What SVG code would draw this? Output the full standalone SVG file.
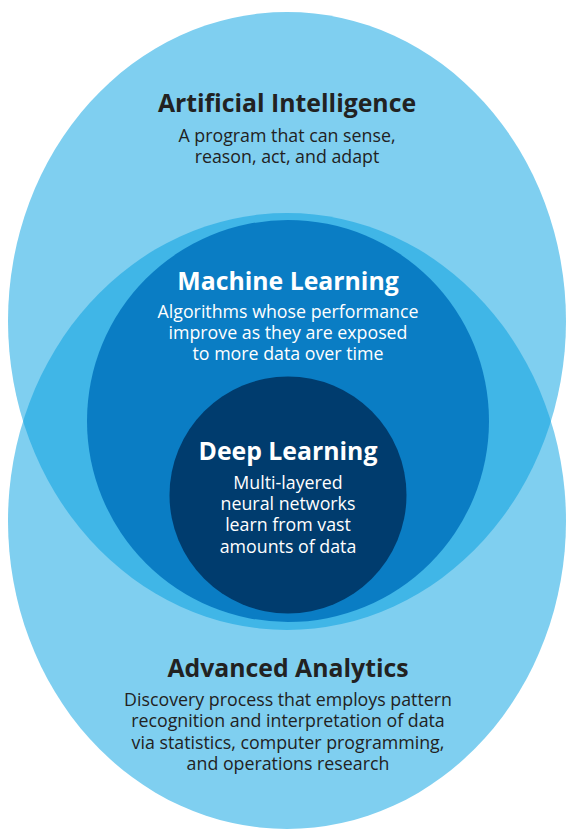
<svg xmlns="http://www.w3.org/2000/svg" width="567" height="829" viewBox="0 0 567 829">
  <style>
    .title { font-family: "Open Sans", "Noto Sans", sans-serif; font-weight: bold; font-size: 24.8px; text-anchor: middle; }
    .body { font-family: "Open Sans", "Noto Sans", sans-serif; font-size: 17.8px; text-anchor: middle; }
    .dark { fill: #222222; }
    .light { fill: #ffffff; }
  </style>
  <defs>
    <clipPath id="aiClip">
      <ellipse cx="287" cy="321" rx="279" ry="309"/>
    </clipPath>
  </defs>
  <rect width="567" height="829" fill="#ffffff"/>
  <g id="ai">
    <ellipse cx="287" cy="321" rx="279" ry="309" fill="#7fcff0"/>
  </g>
  <g id="aa">
    <ellipse cx="287" cy="521" rx="279" ry="308" fill="#7fcff0"/>
  </g>
  <g id="overlap">
    <ellipse cx="287" cy="521" rx="279" ry="308" fill="#40b6e7" clip-path="url(#aiClip)"/>
  </g>
  <g id="ml">
    <circle cx="288" cy="421" r="201" fill="#0a7dc4"/>
  </g>
  <g id="dl">
    <circle cx="288" cy="495" r="118.5" fill="#003c6e"/>
  </g>
  <g id="connectors"/>
  <g id="ai-text">
    <text class="title dark" x="287" y="112">Artificial Intelligence</text>
    <text class="body dark" x="287" y="142">A program that can sense,</text>
    <text class="body dark" x="287" y="163">reason, act, and adapt</text>
  </g>
  <g id="ml-text">
    <text class="title light" x="288" y="290">Machine Learning</text>
    <text class="body light" x="288" y="318">Algorithms whose performance</text>
    <text class="body light" x="288" y="339">improve as they are exposed</text>
    <text class="body light" x="288" y="360">to more data over time</text>
  </g>
  <g id="dl-text">
    <text class="title light" x="288" y="460">Deep Learning</text>
    <text class="body light" x="288" y="489">Multi-layered</text>
    <text class="body light" x="288" y="510">neural networks</text>
    <text class="body light" x="288" y="531">learn from vast</text>
    <text class="body light" x="288" y="553">amounts of data</text>
  </g>
  <g id="aa-text">
    <text class="title dark" x="288" y="677">Advanced Analytics</text>
    <text class="body dark" x="288" y="706">Discovery process that employs pattern</text>
    <text class="body dark" x="288" y="727">recognition and interpretation of data</text>
    <text class="body dark" x="288" y="749">via statistics, computer programming,</text>
    <text class="body dark" x="288" y="770">and operations research</text>
  </g>
</svg>
